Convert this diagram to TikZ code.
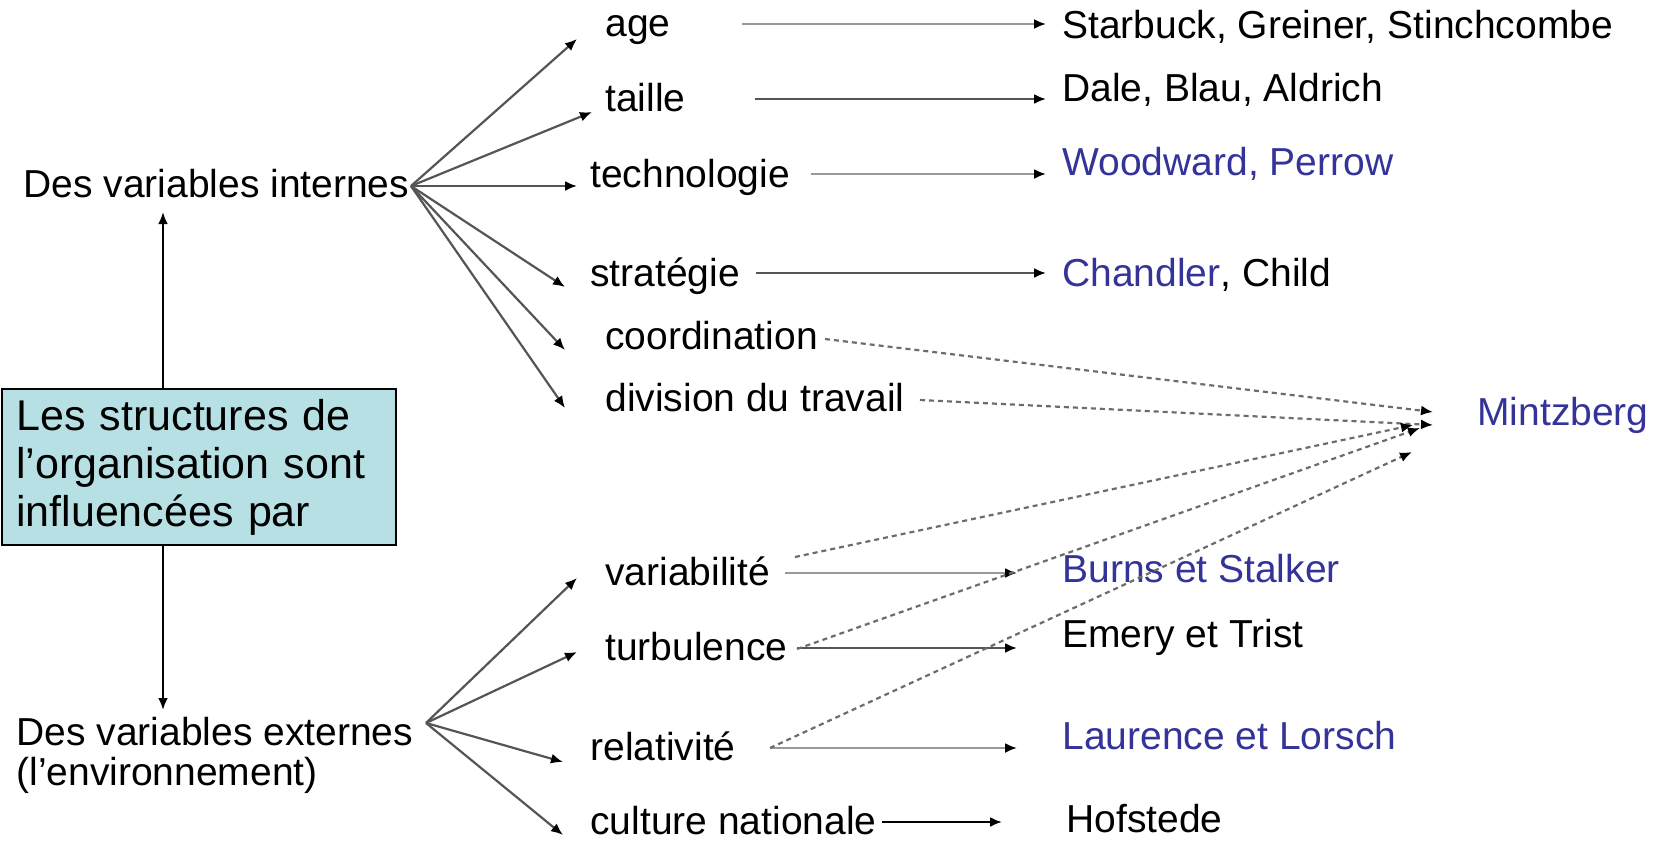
\documentclass[tikz,border=0pt]{standalone}
\usepackage{fontspec}
\setmainfont{Liberation Sans}
\usetikzlibrary{arrows.meta}
\definecolor{refblue}{RGB}{51,51,153}
\definecolor{boxfill}{RGB}{183,224,228}
\definecolor{linegray}{RGB}{85,85,85}
\begin{document}
\begin{tikzpicture}[x=0.5pt,y=-0.5pt,
  txt/.style={anchor=base west,inner sep=0pt,font=\fontsize{19.5}{22}\selectfont},
  bl/.style={text=refblue},
  arr/.style={draw=linegray,line width=1.1pt,-{Latex[length=6pt,width=5pt,color=black]}},
  darr/.style={arr,draw=gray!85!black,dash pattern=on 2.5pt off 2pt},
  varr/.style={draw=black,line width=1.3pt,-{Latex[length=6pt,width=5pt]}},
  ]
\useasboundingbox (0,0) rectangle (1662,841);

% central box
\node[draw=black,line width=1.2pt,fill=boxfill,anchor=north west,
      minimum height=78pt,inner xsep=7pt,text width=183pt,align=left,
      font=\fontsize{21.5}{24}\selectfont] (box) at (1,388)
  {Les structures de\\l’organisation sont\\influencées par};

% left labels
\node[txt] (intern) at (23,197) {Des variables internes};
\node[txt] (extern) at (16,745) {Des variables externes};
\node[txt] (env) at (16,785) {(l’environnement)};

\coordinate (upT) at (163,212);
\coordinate (dnT) at (163,710);
\draw[varr] (upT |- box.north) -- (upT);
\draw[varr] (dnT |- box.south) -- (dnT);

% middle labels
\node[txt] (age) at (605,36) {age};
\node[txt] (taille) at (605,111) {taille};
\node[txt] (techno) at (590,187) {technologie};
\node[txt] (strat) at (590,286) {stratégie};
\node[txt] (coord) at (605,349) {coordination};
\node[txt] (divis) at (605,411) {division du travail};
\node[txt] (varia) at (605,585) {variabilité};
\node[txt] (turb) at (605,660) {turbulence};
\node[txt] (relat) at (590,760) {relativité};
\node[txt] (cult) at (590,834) {culture nationale};

% right labels
\node[txt] (starbuck) at (1062,38) {Starbuck, Greiner, Stinchcombe};
\node[txt] (dale) at (1062,101) {Dale, Blau, Aldrich};
\node[txt,bl] (woodward) at (1062,175) {Woodward, Perrow};
\node[txt] (chandler) at (1062,286) {{\color{refblue}Chandler}, Child};
\node[txt,bl] (mintz) at (1477,425) {Mintzberg};
\node[txt,bl] (burns) at (1062,582) {Burns et Stalker};
\node[txt] (emery) at (1062,647) {Emery et Trist};
\node[txt,bl] (laurence) at (1062,749) {Laurence et Lorsch};
\node[txt] (hofstede) at (1066,832) {Hofstede};

% fan origins and tips
\coordinate (fi) at (411,186);
\coordinate (fe) at (426,723);
\coordinate (ageT) at (577,39);
\coordinate (taiT) at (592,112);
\coordinate (tecT) at (577,186);
\coordinate (strT) at (565,287);
\coordinate (cooT) at (565,350);
\coordinate (divT) at (565,408);
\coordinate (varT) at (577,578);
\coordinate (turT) at (577,652);
\coordinate (relT) at (563,762);
\coordinate (culT) at (563,835);

\foreach \t in {ageT,taiT,tecT,strT,cooT,divT}{\draw[arr] (fi) -- (\t);}
\foreach \t in {varT,turT,relT,culT}{\draw[arr] (fe) -- (\t);}

% horizontal arrows
\coordinate (ageS) at (742,24);   \coordinate (ageE) at (1046,24);
\coordinate (taiS) at (755,99);   \coordinate (taiE) at (1046,99);
\coordinate (tecS) at (811,174);  \coordinate (tecE) at (1046,174);
\coordinate (strS) at (756,273);  \coordinate (strE) at (1046,273);
\coordinate (varS) at (785,573);  \coordinate (varE) at (1017,573);
\coordinate (turS) at (797,648);  \coordinate (turE) at (1017,648);
\coordinate (relS) at (770,748);  \coordinate (relE) at (1017,748);
\coordinate (culS) at (882,822);  \coordinate (culE) at (1002,822);
\draw[arr,draw=gray!80] (ageS) -- (ageE);
\draw[arr] (taiS) -- (taiE);
\draw[arr,draw=gray!80] (tecS) -- (tecE);
\draw[arr] (strS) -- (strE);
\draw[arr,draw=gray!80] (varS) -- (varE);
\draw[arr] (turS) -- (turE);
\draw[arr,draw=gray!80] (relS) -- (relE);
\draw[arr,draw=black] (culS) -- (culE);

% dashed arrows to Mintzberg
\coordinate (cooD) at (825,339);  \coordinate (mA) at (1433,412);
\coordinate (divD) at (920,400);  \coordinate (mB) at (1433,425);
\coordinate (varD) at (795,557);  \coordinate (mC) at (1413,425);
\coordinate (turD) at (797,649);  \coordinate (mD) at (1420,428);
\coordinate (relD) at (770,748);  \coordinate (mE) at (1412,452);
\draw[darr] (cooD) -- (mA);
\draw[darr] (divD) -- (mB);
\draw[darr] (varD) -- (mC);
\draw[darr] (turD) -- (mD);
\draw[darr] (relD) -- (mE);
\end{tikzpicture}
\end{document}
